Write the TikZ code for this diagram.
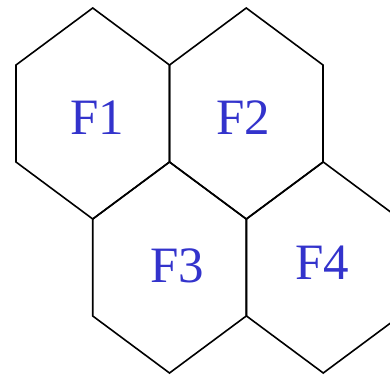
\documentclass[tikz,border=0pt]{standalone}
\usepackage{fontspec}
\setmainfont{Liberation Serif}
\usepackage{tikz}
\definecolor{cellblue}{HTML}{3333CC}

\begin{document}
\begin{tikzpicture}[
  x=1pt,y=-1pt,
  edge/.style={draw=black,line width=1.6pt,line join=miter},
  cell/.style={font=\fontsize{51}{51}\selectfont,text=cellblue,inner sep=0pt}
]
\useasboundingbox (0,0) rectangle (390,375);
\clip (0,0) rectangle (390,375);
% four cells, pointy top
\foreach \cx/\cy in {92.75/113.5, 246.25/113.5, 169.5/267.5, 323.25/267.5}
  \draw[edge] (\cx,\cy) ++(0,-105.5) -- ++(76.75,57) -- ++(0,97) -- ++(-76.75,57)
    -- ++(-76.75,-57) -- ++(0,-97) -- cycle;
\node[cell] (f1) at (97,118) {F1};
\node[cell] (f2) at (243,118) {F2};
\node[cell] (f3) at (177.5,265.5) {F3};
\node[cell] (f4) at (322,263) {F4};
\end{tikzpicture}
\end{document}
